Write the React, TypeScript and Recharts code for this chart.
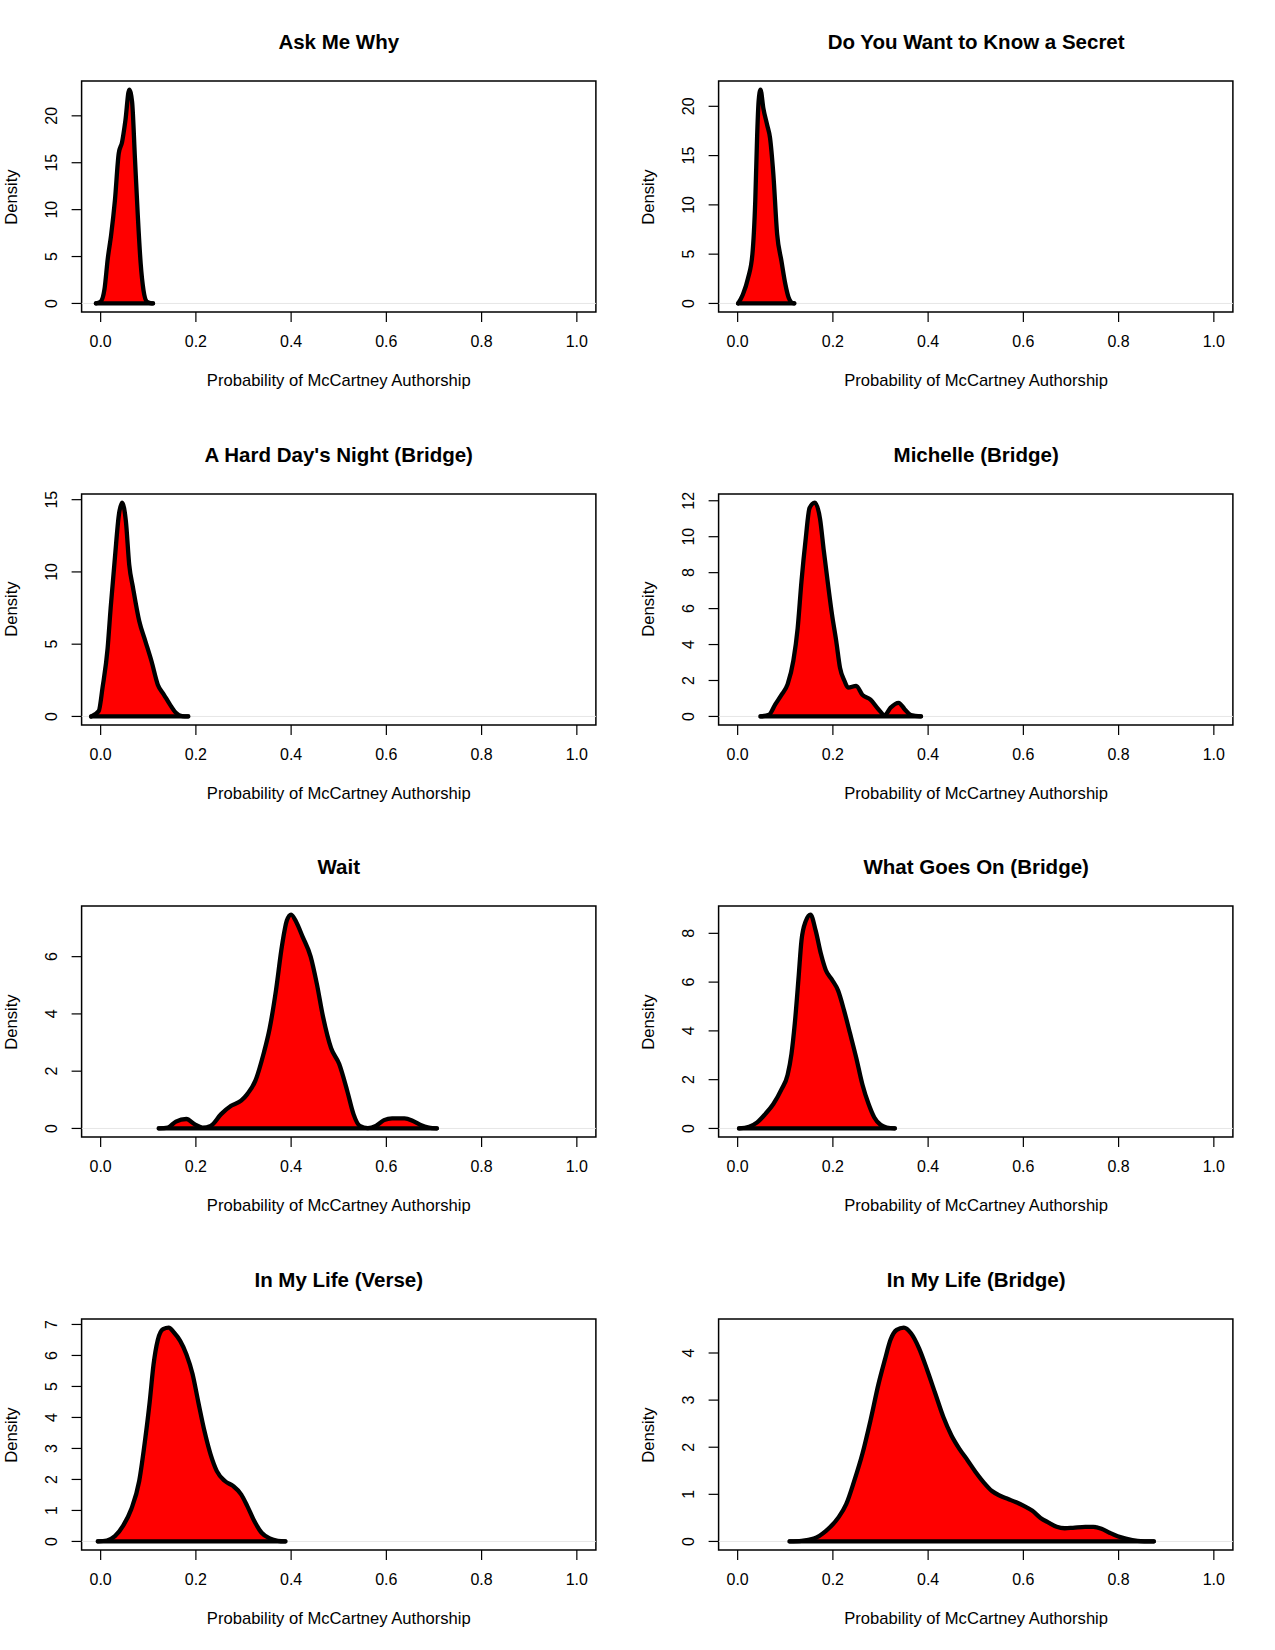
import { Area, AreaChart, ReferenceArea, ReferenceLine, XAxis, YAxis } from "recharts";

const FONT = "'Liberation Sans', Arial, Helvetica, sans-serif";
const FILL = "#FF0000";

const X_TICKS = [0, 0.2, 0.4, 0.6, 0.8, 1.0];
const X_TITLE = "Probability of McCartney Authorship";
const Y_TITLE = "Density";

// Ask Me Why
const askMeWhyX = [-0.01, 0.0, 0.008, 0.015, 0.022, 0.03, 0.038, 0.045, 0.052, 0.06, 0.066, 0.072, 0.078, 0.084, 0.09, 0.097, 0.105, 0.11];
const askMeWhyY = [0, 0.2, 1.5, 4.8, 7.3, 11.0, 16.0, 17.2, 19.5, 22.8, 21.5, 15.5, 9.4, 4.3, 1.4, 0.2, 0.03, 0];
const askMeWhyTicks = [0, 5, 10, 15, 20];

// Do You Want to Know a Secret
const secretX = [0.001, 0.011, 0.022, 0.031, 0.037, 0.041, 0.044, 0.048, 0.054, 0.062, 0.068, 0.075, 0.083, 0.092, 0.1, 0.107, 0.113, 0.119];
const secretY = [0, 0.9, 2.6, 5.0, 10.4, 17.1, 20.5, 21.7, 19.8, 18.1, 16.8, 13.1, 7.0, 4.3, 2.0, 0.6, 0.1, 0];
const secretTicks = [0, 5, 10, 15, 20];

// A Hard Day's Night (Bridge)
const hardDayX = [-0.02, -0.004, 0.004, 0.0146, 0.021, 0.03, 0.0385, 0.045, 0.053, 0.06, 0.068, 0.081, 0.094, 0.107, 0.12, 0.133, 0.146, 0.158, 0.171, 0.184];
const hardDayY = [0, 0.37, 2.0, 4.7, 7.5, 11.0, 14.0, 14.8, 13.5, 10.5, 8.9, 6.6, 5.2, 3.8, 2.2, 1.5, 0.8, 0.25, 0.02, 0];
const hardDayTicks = [0, 5, 10, 15];

// Michelle (Bridge)
const michelleX = [0.048, 0.066, 0.079, 0.092, 0.105, 0.117, 0.126, 0.134, 0.143, 0.151, 0.162, 0.173, 0.181, 0.19, 0.198, 0.207, 0.215, 0.224, 0.232, 0.249, 0.262, 0.279, 0.296, 0.309, 0.321, 0.338, 0.351, 0.364, 0.385];
const michelleY = [0, 0.1, 0.67, 1.2, 1.8, 3.1, 4.9, 7.5, 9.9, 11.6, 11.9, 11.0, 9.2, 7.3, 5.7, 4.2, 2.7, 2.0, 1.6, 1.7, 1.2, 0.94, 0.39, 0.07, 0.48, 0.76, 0.39, 0.07, 0];
const michelleTicks = [0, 2, 4, 6, 8, 10, 12];

// Wait
const waitX = [0.122, 0.141, 0.158, 0.18, 0.197, 0.214, 0.231, 0.253, 0.274, 0.295, 0.308, 0.325, 0.342, 0.355, 0.368, 0.381, 0.391, 0.4, 0.411, 0.424, 0.441, 0.454, 0.467, 0.484, 0.501, 0.518, 0.531, 0.544, 0.561, 0.578, 0.595, 0.612, 0.638, 0.655, 0.672, 0.689, 0.706];
const waitY = [0, 0.03, 0.24, 0.33, 0.15, 0.03, 0.09, 0.5, 0.79, 0.97, 1.2, 1.67, 2.6, 3.5, 4.8, 6.4, 7.26, 7.47, 7.2, 6.7, 6.0, 5.05, 3.9, 2.8, 2.25, 1.3, 0.5, 0.09, 0.01, 0.09, 0.29, 0.35, 0.35, 0.27, 0.12, 0.03, 0];
const waitTicks = [0, 2, 4, 6];

// What Goes On (Bridge)
const goesOnX = [0.003, 0.024, 0.041, 0.058, 0.075, 0.092, 0.105, 0.113, 0.12, 0.128, 0.134, 0.143, 0.153, 0.164, 0.175, 0.185, 0.198, 0.211, 0.224, 0.236, 0.249, 0.262, 0.275, 0.287, 0.3, 0.313, 0.33];
const goesOnY = [0, 0.07, 0.25, 0.59, 1.0, 1.6, 2.2, 3.05, 4.3, 6.2, 7.7, 8.5, 8.77, 8.1, 7.15, 6.5, 6.1, 5.65, 4.8, 3.9, 2.9, 1.8, 1.0, 0.45, 0.15, 0.04, 0];
const goesOnTicks = [0, 2, 4, 6, 8];

// In My Life (Verse)
const lifeVerseX = [-0.006, 0.013, 0.03, 0.047, 0.064, 0.081, 0.094, 0.103, 0.111, 0.12, 0.131, 0.143, 0.154, 0.167, 0.18, 0.193, 0.205, 0.218, 0.231, 0.244, 0.261, 0.278, 0.295, 0.308, 0.321, 0.338, 0.355, 0.372, 0.388];
const lifeVerseY = [0, 0.03, 0.17, 0.5, 1.03, 1.95, 3.35, 4.5, 5.7, 6.5, 6.85, 6.9, 6.74, 6.47, 6.04, 5.4, 4.5, 3.56, 2.8, 2.27, 1.95, 1.79, 1.52, 1.14, 0.71, 0.28, 0.1, 0.02, 0];
const lifeVerseTicks = [0, 1, 2, 3, 4, 5, 6, 7];

// In My Life (Bridge)
const lifeBridgeX = [0.109, 0.134, 0.16, 0.185, 0.211, 0.228, 0.245, 0.262, 0.279, 0.296, 0.309, 0.321, 0.334, 0.349, 0.364, 0.381, 0.398, 0.415, 0.432, 0.449, 0.466, 0.483, 0.5, 0.517, 0.534, 0.551, 0.568, 0.585, 0.602, 0.619, 0.636, 0.653, 0.67, 0.687, 0.704, 0.73, 0.747, 0.764, 0.781, 0.798, 0.815, 0.84, 0.874];
const lifeBridgeY = [0, 0.01, 0.06, 0.22, 0.5, 0.79, 1.29, 1.86, 2.57, 3.35, 3.85, 4.28, 4.49, 4.54, 4.42, 4.1, 3.64, 3.14, 2.64, 2.25, 1.96, 1.72, 1.47, 1.25, 1.07, 0.97, 0.9, 0.83, 0.75, 0.65, 0.5, 0.4, 0.31, 0.28, 0.29, 0.31, 0.31, 0.27, 0.185, 0.11, 0.06, 0.014, 0];
const lifeBridgeTicks = [0, 1, 2, 3, 4];

const panels = [
  { title: "Ask Me Why", xs: askMeWhyX, ys: askMeWhyY, ticks: askMeWhyTicks },
  { title: "Do You Want to Know a Secret", xs: secretX, ys: secretY, ticks: secretTicks },
  { title: "A Hard Day's Night (Bridge)", xs: hardDayX, ys: hardDayY, ticks: hardDayTicks },
  { title: "Michelle (Bridge)", xs: michelleX, ys: michelleY, ticks: michelleTicks },
  { title: "Wait", xs: waitX, ys: waitY, ticks: waitTicks },
  { title: "What Goes On (Bridge)", xs: goesOnX, ys: goesOnY, ticks: goesOnTicks },
  { title: "In My Life (Verse)", xs: lifeVerseX, ys: lifeVerseY, ticks: lifeVerseTicks },
  { title: "In My Life (Bridge)", xs: lifeBridgeX, ys: lifeBridgeY, ticks: lifeBridgeTicks },
];

// layout (px)
const CHART_W = 637.4;
const CHART_H = 412;
const ROW_Y = 412.67;
const BOX_LEFT = 81.6;
const BOX_TOP = 81;
const BOX_H = 231;
const BOX_W = 514.3;
const YAXIS_W = 40;
const XAXIS_H = 30;

function XTick({ x, y, payload }: any) {
  return (
    <text x={x} y={y} dy="0.71em" textAnchor="middle" fontSize={16} fontFamily={FONT} fill="#000">
      {Number(payload.value).toFixed(1)}
    </text>
  );
}

function YTick({ x, y, payload }: any) {
  return (
    <text
      transform={`translate(${x},${y}) rotate(-90)`}
      textAnchor="middle"
      fontSize={16}
      fontFamily={FONT}
      fill="#000"
    >
      {payload.value}
    </text>
  );
}

function textStyle(left: number, top: number, size: number, bold: boolean, rotate = false) {
  return {
    position: "absolute" as const,
    left,
    top,
    fontFamily: FONT,
    fontSize: size,
    fontWeight: bold ? 700 : 400,
    lineHeight: 1,
    whiteSpace: "nowrap" as const,
    color: "#000",
    transform: `translate(-50%,-50%)${rotate ? " rotate(-90deg)" : ""}`,
  };
}

function DensityPanel({ title, xs, ys, ticks, col, row }: any) {
  const data = xs.map((x: number, i: number) => ({ x, y: ys[i] }));
  const ymax = Math.max(...ys);
  const lo = -0.04 * ymax;
  const hi = 1.04 * ymax;
  const cx = BOX_LEFT + BOX_W / 2;
  return (
    <div
      style={{
        position: "absolute",
        left: col * CHART_W,
        top: row * ROW_Y,
        width: CHART_W,
        height: CHART_H,
      }}
    >
      <AreaChart
        width={CHART_W}
        height={CHART_H}
        data={data}
        margin={{
          top: BOX_TOP,
          left: BOX_LEFT - YAXIS_W,
          right: CHART_W - BOX_LEFT - BOX_W,
          bottom: CHART_H - BOX_TOP - BOX_H - XAXIS_H,
        }}
      >
        <XAxis
          type="number"
          dataKey="x"
          domain={[-0.04, 1.04]}
          ticks={X_TICKS}
          allowDataOverflow
          axisLine={false}
          tickLine={{ stroke: "#000", strokeWidth: 1.2 }}
          tickSize={10}
          tickMargin={14}
          height={XAXIS_H}
          tick={XTick}
          interval={0}
        />
        <YAxis
          type="number"
          domain={[lo, hi]}
          ticks={ticks}
          allowDataOverflow
          axisLine={false}
          tickLine={{ stroke: "#000", strokeWidth: 1.2 }}
          tickSize={10}
          tickMargin={15}
          width={YAXIS_W}
          tick={YTick}
          interval={0}
        />
        <ReferenceLine y={0} stroke="#e6e6e6" strokeWidth={1} />
        <Area
          type="monotone"
          dataKey="y"
          baseValue={0}
          fill={FILL}
          fillOpacity={1}
          stroke="#000"
          strokeWidth={4.3}
          strokeLinejoin="round"
          strokeLinecap="round"
          dot={false}
          activeDot={false}
          isAnimationActive={false}
        />
        <ReferenceLine
          segment={[
            { x: xs[0], y: 0 },
            { x: xs[xs.length - 1], y: 0 },
          ]}
          stroke="#000"
          strokeWidth={4.3}
          strokeLinecap="round"
        />
        <ReferenceArea
          x1={-0.04}
          x2={1.04}
          y1={lo}
          y2={hi}
          fill="none"
          fillOpacity={0}
          stroke="#000"
          strokeWidth={1.5}
          ifOverflow="visible"
        />
      </AreaChart>
      <div style={textStyle(cx, BOX_TOP - 39, 20.5, true)}>{title}</div>
      <div style={textStyle(cx, BOX_TOP + BOX_H + 69, 16.6, false)}>{X_TITLE}</div>
      <div style={textStyle(BOX_LEFT - 70, BOX_TOP + BOX_H / 2, 16.6, false, true)}>{Y_TITLE}</div>
    </div>
  );
}

export default function App() {
  return (
    <div
      style={{
        position: "absolute",
        left: 0,
        top: 0,
        width: 1275,
        height: 1650,
        background: "#fff",
      }}
    >
      {panels.map((p, i) => (
        <DensityPanel key={p.title} {...p} col={i % 2} row={Math.floor(i / 2)} />
      ))}
    </div>
  );
}
